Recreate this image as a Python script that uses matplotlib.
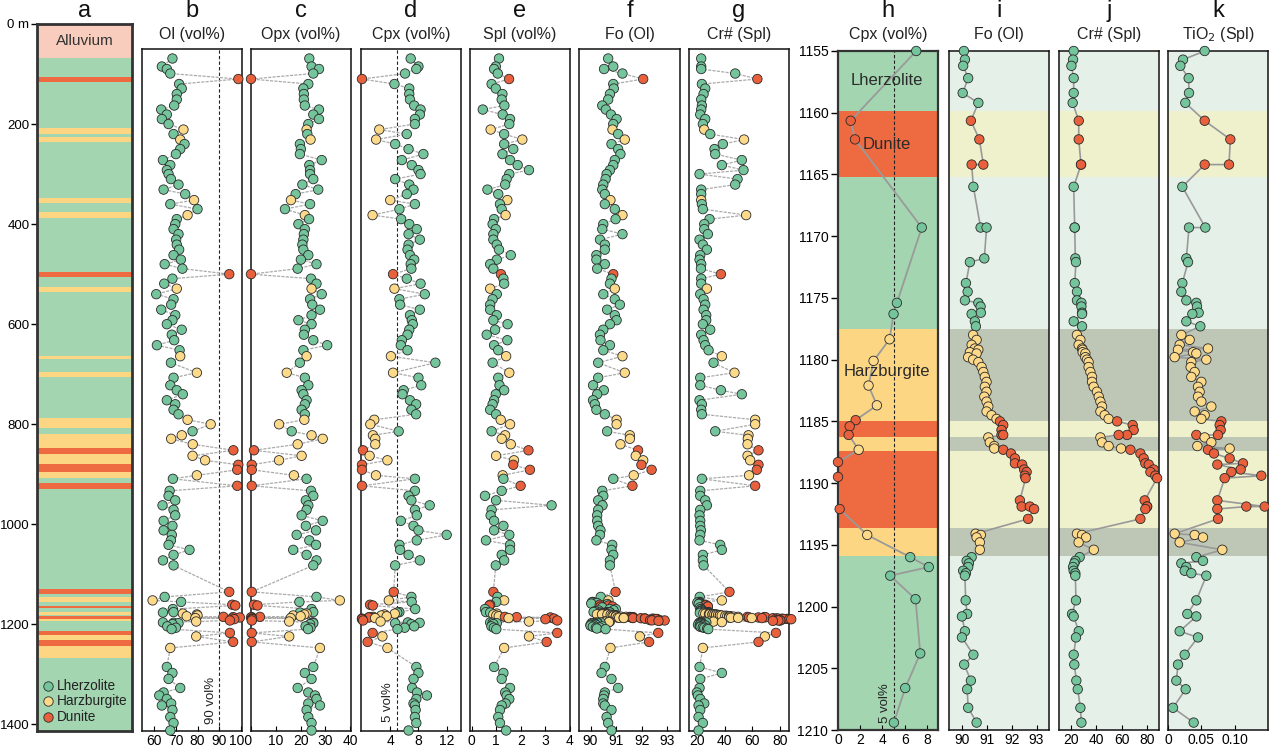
import numpy as np
import matplotlib
matplotlib.use('Agg')
import matplotlib.pyplot as plt

plt.rcParams['font.family'] = ['Liberation Sans', 'DejaVu Sans']

W, H = 1269, 746

# ---- lithology colours ----
col_mark = {'L': '#74C49C', 'H': '#FDD98A', 'D': '#E8603C'}
col_band = {'L': '#A3D5B1', 'H': '#FDD684', 'D': '#EE6A41'}
col_soft = {'L': '#E5F1E8', 'H': '#BEC7B6', 'D': '#EEF1CC'}
lith_names = ['Lherzolite', 'Harzburgite', 'Dunite']

# ---- column a: lithology log (m) ----
alluvium_top, alluvium_bot = 0, 68
band_top = [105, 207, 225, 347, 375, 495, 525, 663, 695, 787, 819, 847, 859, 879, 895, 917,
            1129, 1145, 1163, 1175, 1184, 1189, 1214, 1222, 1231, 1243]
band_bot = [115, 220, 235, 357, 387, 505, 536, 669, 705, 807, 847, 859, 879, 895, 907, 929,
            1140, 1155, 1167, 1182, 1189, 1193, 1222, 1231, 1243, 1267]
band_lith = ['D', 'H', 'H', 'H', 'H', 'D', 'H', 'H', 'H', 'H', 'H', 'D', 'H', 'D', 'H', 'D',
             'D', 'H', 'D', 'H', 'D', 'H', 'D', 'H', 'D', 'H']

# ---- main drill-core profile (panels b-g) ----
depth = [69, 85, 90, 99, 110, 120, 129, 140, 151, 163, 171, 181, 190, 200, 211, 220, 231, 240,
         250, 260, 272, 282, 292, 300, 310, 321, 331, 340, 352, 360, 370, 382, 390, 400, 410,
         420, 431, 441, 451, 462, 471, 480, 489, 500, 509, 519, 529, 540, 550, 561, 571, 582,
         592, 600, 611, 621, 632, 642, 652, 664, 677, 697, 707, 722, 732, 740, 752, 760, 771,
         780, 791, 800, 814, 822, 829, 840, 852, 863, 872, 881, 891, 902, 909, 923, 933, 943,
         952, 962, 971, 982, 993, 1003, 1012, 1021, 1032, 1041, 1051, 1061, 1072, 1082,
         1135, 1145, 1152, 1217, 1224, 1235, 1247,
         1285, 1297, 1309, 1327, 1336, 1342, 1349, 1358, 1362, 1371, 1385, 1397, 1412]
lith = list('LLLL' 'D' 'LLLLLLLLL' 'H' 'L' 'H' 'LLLLLLLLLLL' 'H' 'LL' 'H' 'LLLLLLLLLLL' 'D'
            'LL' 'H' 'LLLLLLLLLLLL' 'H' 'L' 'H' 'L' 'LLLLLLL' 'HH' 'L' 'HHH' 'D' 'HH' 'DD'
            'H' 'L' 'D' 'LLLLLLLLLLLLLLLL'
            'DLHDHDH'
            'LLLLLLLLLLLLL')
ol = [68.4, 63.5, 65.8, 67.4, 98.9, 71.5, 72.7, 70.4, 70.4, 69.2, 63.2, 65.8, 63.5, 66.6, 73.5,
      68.9, 72.0, 74.0, 72.0, 70.0, 64.0, 67.4, 65.8, 66.6, 67.7, 71.2, 64.3, 74.3, 78.4, 67.4,
      80.0, 75.4, 70.4, 69.7, 68.9, 71.2, 70.1, 70.4, 71.5, 68.9, 72.3, 64.8, 73.0, 94.7, 68.4,
      64.6, 70.4, 60.9, 68.9, 67.8, 63.2, 69.7, 68.4, 65.8, 72.7, 68.1, 69.2, 61.2, 71.7, 72.0,
      67.7, 79.7, 68.9, 67.4, 70.4, 73.2, 65.8, 69.7, 68.9, 71.2, 75.4, 86.1, 77.7, 72.7, 67.8,
      77.8, 96.6, 77.7, 83.5, 98.9, 98.4, 79.7, 68.6, 98.4, 67.1, 66.6, 69.7, 63.8, 68.9, 69.7,
      64.3, 68.4, 64.3, 68.1, 67.7, 66.6, 76.3, 68.9, 64.0, 68.9,
      94.7, 64.8, 59.2, 95.0, 79.4, 96.5, 67.4,
      65.8, 68.4, 66.6, 72.0, 64.3, 62.3, 65.8, 67.8, 63.5, 68.4, 67.4, 68.9, 67.4]
opx = [23.5, 24.4, 27.4, 25.1, 0.0, 23.1, 21.1, 21.3, 21.3, 21.7, 27.4, 25.1, 27.4, 23.1, 22.4,
       22.7, 24.0, 19.7, 20.1, 19.7, 28.5, 23.5, 23.8, 23.8, 25.1, 20.7, 27.1, 18.0, 16.1, 23.8,
       13.7, 21.7, 23.4, 19.1, 21.7, 21.3, 21.1, 20.7, 21.1, 23.1, 20.1, 26.4, 18.8, 0.0, 24.2,
       26.4, 24.4, 28.5, 23.8, 24.7, 27.8, 24.4, 19.1, 24.4, 21.7, 21.3, 25.1, 30.7, 21.1, 22.4,
       19.7, 14.4, 21.7, 23.1, 20.4, 21.1, 22.4, 21.7, 20.4, 21.7, 21.5, 11.3, 16.4, 24.4, 28.9,
       18.8, 1.2, 20.4, 11.3, 0.3, 0.3, 17.3, 22.4, 0.3, 24.2, 25.1, 22.1, 23.1, 22.4, 20.4,
       28.9, 22.1, 26.2, 18.4, 23.5, 26.2, 17.0, 22.4, 26.4, 25.1,
       0.3, 26.4, 35.8, 0.3, 15.4, 0.3, 27.8,
       25.1, 21.7, 24.4, 18.8, 23.1, 25.8, 26.4, 23.1, 27.8, 22.4, 23.1, 24.4, 24.4]
cpx = [6.9, 8.0, 7.7, 6.1, 0.0, 4.6, 6.7, 6.7, 6.8, 7.4, 8.3, 8.2, 7.5, 7.5, 2.45, 6.35, 2.0,
       4.7, 6.6, 8.7, 5.65, 7.06, 8.0, 8.3, 4.7, 6.7, 7.3, 6.35, 4.0, 7.5, 5.3, 1.5, 5.55, 6.7,
       7.76, 6.6, 8.2, 6.6, 6.45, 6.8, 7.4, 6.9, 7.0, 4.4, 6.35, 8.3, 4.6, 8.9, 5.3, 5.4, 8.2,
       6.8, 7.06, 7.2, 6.7, 6.45, 5.65, 5.5, 6.45, 4.1, 10.4, 4.4, 8.0, 8.4, 5.9, 5.74, 6.8,
       7.67, 7.0, 7.67, 1.74, 1.18, 5.2, 1.55, 1.88, 1.88, 0.14, 1.08, 3.6, 0.0, 0.0, 1.98, 7.5,
       0.0, 7.5, 6.6, 7.0, 9.6, 7.5, 7.76, 5.5, 7.3, 8.0, 12.0, 7.76, 5.3, 5.4, 6.6, 8.2, 4.7,
       4.5, 7.0, 3.8, 1.5, 2.9, 0.8, 3.6,
       7.7, 8.0, 7.3, 7.1, 7.8, 9.2, 7.7, 7.3, 7.5, 7.6, 7.5, 7.7, 6.6]
spl = [1.11, 0.98, 0.91, 1.06, 1.52, 0.81, 0.98, 1.25, 1.22, 1.33, 0.45, 1.26, 1.56, 1.53, 0.77,
       1.32, 2.06, 1.32, 1.69, 1.25, 1.56, 1.87, 2.33, 1.53, 1.42, 1.36, 0.64, 1.08, 1.45, 1.15,
       1.22, 1.38, 0.91, 0.85, 0.98, 0.88, 0.88, 1.02, 1.11, 1.59, 1.02, 0.75, 0.88, 1.19, 1.29,
       1.32, 0.75, 1.02, 0.85, 0.75, 0.75, 1.02, 0.88, 1.46, 0.95, 0.61, 1.45, 0.91, 1.08, 1.40,
       0.85, 1.53, 1.08, 1.13, 1.32, 0.98, 0.91, 0.85, 0.75, 0.99, 1.18, 1.56, 0.81, 1.36, 1.22,
       1.59, 2.31, 0.99, 1.72, 1.69, 2.37, 1.26, 1.29, 1.99, 1.22, 0.54, 0.99, 3.25, 0.81, 0.77,
       0.91, 1.29, 0.91, 1.53, 0.58, 1.56, 1.56, 1.22, 1.32, 0.98,
       0.88, 1.05, 1.32, 3.48, 2.33, 3.05, 1.32,
       0.91, 1.29, 1.22, 1.56, 1.36, 1.42, 1.53, 1.38, 1.22, 1.15, 1.08, 1.15, 1.40]
fo = [90.69, 90.89, 90.53, 91.25, 92.06, 90.89, 90.91, 90.76, 90.69, 90.46, 90.60, 90.80, 91.02,
      90.89, 90.86, 91.08, 91.34, 90.82, 91.08, 91.17, 90.95, 90.89, 90.76, 90.63, 90.59, 90.50,
      90.46, 90.56, 90.78, 90.56, 90.95, 91.25, 90.98, 90.50, 90.46, 91.25, 90.37, 90.56, 90.56,
      90.23, 90.23, 90.56, 90.26, 90.89, 90.82, 90.76, 90.95, 90.50, 90.95, 91.15, 90.65, 90.95,
      91.02, 90.76, 90.50, 90.37, 90.39, 90.76, 90.50, 91.25, 90.30, 91.34, 90.30, 90.10, 90.52,
      90.26, 90.10, 90.17, 90.23, 90.56, 91.02, 91.02, 90.65, 91.54, 91.54, 91.17, 91.86, 91.77,
      92.06, 91.99, 92.39, 91.69, 90.89, 91.64, 90.46, 90.50, 90.30, 90.47, 90.30, 90.26, 90.26,
      90.30, 90.39, 90.37, 90.23, 90.85, 90.82, 90.89, 90.76, 90.76,
      90.98, 90.40, 90.70, 92.65, 91.93, 92.29, 90.78,
      90.56, 90.43, 90.82, 91.08, 90.56, 90.53, 90.50, 90.50, 90.56, 90.82, 90.63, 90.69, 90.82]
crn = [23.1, 23.1, 23.1, 47.6, 63.6, 23.6, 26.0, 24.8, 23.1, 23.6, 23.1, 22.4, 26.0, 24.3, 25.3,
       29.6, 54.0, 38.7, 32.7, 33.2, 52.4, 38.0, 53.6, 21.9, 49.3, 47.6, 23.1, 23.1, 23.1, 23.6,
       24.3, 55.5, 29.1, 25.3, 25.3, 27.9, 21.9, 24.3, 27.2, 22.4, 21.9, 23.1, 22.9, 37.3, 23.1,
       23.1, 27.2, 22.4, 24.8, 26.0, 24.8, 26.7, 26.7, 24.3, 29.6, 23.1, 24.8, 26.0, 28.4, 38.0,
       32.0, 47.1, 22.4, 22.4, 37.3, 52.4, 21.9, 23.6, 23.1, 23.6, 62.0, 62.0, 33.2, 57.2, 56.7,
       56.5, 64.4, 56.5, 58.4, 64.4, 63.2, 57.6, 23.6, 62.0, 22.4, 22.4, 26.0, 27.2, 22.4, 21.9,
       22.4, 22.4, 22.9, 22.4, 21.9, 36.8, 38.0, 24.3, 24.3, 24.8,
       43.5, 22.0, 38.0, 77.0, 69.0, 64.4, 24.3,
       21.9, 38.0, 22.4, 21.9, 20.0, 20.7, 22.4, 25.3, 21.2, 22.4, 21.2, 24.3, 21.2]

# ---- detailed interval 1155-1210 m: modal data (panel h, also in b-e) ----
h_depth = [1155.0, 1160.65, 1162.16, 1169.3, 1175.4, 1176.3, 1178.35, 1180.1, 1182.1, 1183.7,
           1184.9, 1185.4, 1186.1, 1187.3, 1188.3, 1189.5, 1192.1, 1194.2, 1196.0, 1196.8,
           1197.5, 1199.4, 1203.8, 1206.6, 1209.4]
h_lith = list('LDDLLLHHHHDDDHDDDHLLLLLLL')
h_ol = [72.4, 96.1, 97.5, 68.6, 68.9, 64.0, 73.2, 79.7, 80.0, 75.0, 92.0, 96.5, 99.6, 79.0, 96.0,
        97.0, 95.0, 79.4, 64.0, 68.9, 71.2, 68.4, 66.0, 70.0, 68.0]
h_opx = [19.5, 1.2, 2.6, 24.4, 25.1, 19.7, 22.4, 21.5, 17.0, 20.0, 3.6, 0.3, 0.0, 16.0, 0.3, 0.5,
         0.3, 15.4, 25.0, 24.4, 25.1, 23.8, 22.0, 24.0, 23.0]
h_cpx = [7.04, 1.14, 1.53, 7.54, 5.30, 5.00, 4.64, 3.20, 2.75, 3.50, 1.59, 1.05, 0.96, 1.86, 0.0,
         0.0, 0.15, 2.63, 6.50, 8.17, 4.70, 6.98, 7.40, 6.05, 5.03]
h_spl = [1.00, 0.75, 0.72, 0.54, 0.58, 0.75, 1.02, 0.88, 1.00, 1.10, 1.35, 1.83, 3.20, 1.50, 3.35,
         3.00, 3.48, 2.33, 0.75, 0.85, 1.02, 0.88, 0.80, 0.90, 1.00]

# ---- detailed interval: mineral chemistry (panels i-k, also in f-g) ----
ch_depth = [1155.0, 1155.7, 1156.2, 1157.2, 1158.4, 1159.2, 1160.65, 1162.16, 1164.2, 1164.2,
            1166.0, 1169.3, 1169.3, 1171.8, 1172.1, 1173.8, 1174.5, 1175.2, 1175.4, 1175.7,
            1176.2, 1176.3, 1176.9, 1177.3,
            1178.0, 1178.4, 1178.8, 1179.1, 1179.2, 1179.4, 1179.5, 1179.8, 1180.0, 1180.2,
            1180.6, 1181.0, 1181.4, 1181.8, 1182.2, 1182.6, 1183.0, 1183.4, 1183.8, 1184.2,
            1184.5, 1184.8,
            1185.0, 1185.3, 1185.7, 1186.1, 1186.1, 1186.3, 1186.7, 1187.0, 1187.2,
            1187.3, 1187.6, 1188.0, 1188.4, 1188.5, 1188.9, 1189.1, 1189.4, 1189.6, 1191.4,
            1191.9, 1191.9, 1192.1, 1192.9,
            1194.1, 1194.2, 1194.4, 1194.8, 1195.4,
            1196.0, 1196.3, 1196.5, 1196.8, 1197.1, 1197.3, 1197.5, 1199.5, 1200.6, 1200.8,
            1202.0, 1202.5, 1203.9, 1204.7, 1206.0, 1206.7, 1208.2, 1209.4]
ch_lith = list('LLLLLLDDDDLLLLLLLLLLLLLL' 'HHHHHHHHHHHHHHHHHHHHHH' 'DDDDDHHHH'
               'DDDDDDDDDDDDDD' 'HHHHH' 'LLLLLLLLLLLLLLLLLL')
ch_fo = [90.08, 90.12, 90.05, 90.25, 90.03, 90.66, 90.36, 90.70, 90.86, 90.39,
         90.46, 90.75, 90.99, 90.90, 90.32, 90.16, 90.23, 90.12, 90.66, 90.75,
         90.76, 90.39, 90.52, 90.56,
         90.45, 90.59, 90.39, 90.52, 90.66, 90.32, 90.59, 90.25, 90.45, 90.66,
         90.79, 90.86, 90.92, 90.99, 90.92, 90.99, 90.90, 90.99, 91.06, 90.99,
         91.19, 91.39,
         91.53, 91.66, 91.59, 91.59, 91.66, 91.06, 91.12, 91.30, 91.30,
         91.66, 91.97, 92.13, 92.13, 92.42, 92.50, 92.60, 92.53, 92.56, 92.33,
         92.40, 92.73, 92.90, 92.66,
         90.55, 90.76, 90.59, 90.72, 90.72,
         90.39, 90.19, 90.28, 90.25, 90.05, 90.16, 90.12, 90.15, 90.21, 90.00,
         90.12, 90.00, 90.46, 90.09, 90.36, 90.21, 90.25, 90.59]
ch_crn = [22.1, 21.6, 20.3, 22.1, 22.1, 21.3, 26.1, 26.1, 27.9, 27.9,
          22.1, 22.9, 22.9, 23.4, 23.9, 22.9, 24.7, 24.7, 28.2, 28.2,
          28.7, 28.7, 22.1, 28.7,
          24.7, 27.4, 26.0, 28.7, 29.2, 29.2, 31.3, 31.3, 32.6, 33.9,
          33.9, 35.3, 36.6, 36.6, 37.9, 40.5, 41.9, 43.2, 44.5, 43.2,
          46.6, 49.7,
          56.4, 68.7, 69.5, 64.3, 57.6, 43.2, 44.5, 49.7, 59.5,
          66.9, 74.8, 77.4, 78.7, 81.4, 85.3, 82.7, 86.6, 88.0, 78.2,
          80.1, 80.1, 78.7, 74.8,
          24.7, 28.7, 31.9, 26.0, 38.0,
          26.8, 23.4, 22.6, 21.6, 22.1, 23.4, 23.4, 23.9, 20.8, 22.1,
          26.1, 23.9, 22.1, 22.6, 24.2, 25.3, 27.4, 28.2]
ch_tio2 = [0.055, 0.0225, 0.0185, 0.031, 0.0315, 0.026, 0.055, 0.0935, 0.0915, 0.055,
           0.0215, 0.056, 0.0315, 0.0275, 0.030, 0.0215, 0.020, 0.0275, 0.0425, 0.0435,
           0.046, 0.0365, 0.0275, 0.0485,
           0.020, 0.0325, 0.0175, 0.060, 0.015, 0.0375, 0.0425, 0.010, 0.0575, 0.035,
           0.034, 0.040, 0.035, 0.050, 0.045, 0.0475, 0.045, 0.050, 0.065, 0.040,
           0.055, 0.050,
           0.080, 0.0775, 0.079, 0.075, 0.0425, 0.055, 0.065, 0.044, 0.0925,
           0.060, 0.069, 0.0925, 0.1125, 0.074, 0.109, 0.095, 0.140, 0.085, 0.074,
           0.145, 0.1175, 0.074, 0.075,
           0.010, 0.040, 0.0525, 0.0175, 0.0815,
           0.0425, 0.0525, 0.020, 0.0275, 0.025, 0.035, 0.0575, 0.0425, 0.029, 0.0425,
           0.0175, 0.045, 0.025, 0.015, 0.0125, 0.0265, 0.0075, 0.0385]

# h-k lithology intervals
iv_top = [1155.0, 1159.9, 1165.2, 1177.5, 1185.0, 1186.3, 1187.4, 1193.6, 1195.9]
iv_bot = [1159.9, 1165.2, 1177.5, 1185.0, 1186.3, 1187.4, 1193.6, 1195.9, 1210.0]
iv_lith = ['L', 'D', 'L', 'H', 'D', 'H', 'D', 'H', 'L']


def add_ax(fig, x0, x1, y0, y1):
    return fig.add_axes([x0 / W, 1 - y1 / H, (x1 - x0) / W, (y1 - y0) / H])


def merge(d1, v1, l1, d2, v2, l2):
    d = np.array(list(d1) + list(d2), dtype=float)
    v = np.array(list(v1) + list(v2), dtype=float)
    l = np.array(list(l1) + list(l2))
    o = np.argsort(d, kind='stable')
    return d[o], v[o], l[o]


def draw_profile(ax, d, v, l, line_kw):
    ax.plot(v, d, zorder=2, **line_kw)
    ax.scatter(v, d, s=46, c=[col_mark[k] for k in l], edgecolors='#2a2a2a',
               linewidths=0.6, zorder=3, clip_on=False)


def style_bottom(ax, xlim, ticks, labels):
    ax.set_xlim(*xlim)
    ax.set_xticks(ticks)
    ax.set_xticklabels(labels)
    ax.tick_params(axis='x', direction='in', length=3.5, width=0.8, labelsize=10, pad=2)
    ax.set_yticks([])
    for sp in ax.spines.values():
        sp.set_linewidth(1.1)
        sp.set_color('#111111')


fig = plt.figure(figsize=(W / 100, H / 100), dpi=100)

# ---------------- panel a ----------------
ax_a = add_ax(fig, 37, 132, 24, 731)
ax_a.set_xlim(0, 1)
ax_a.set_ylim(1413, 0)
ax_a.axhspan(alluvium_top, alluvium_bot, color='#F8CDBE', lw=0)
ax_a.axhspan(alluvium_bot, 1413, color=col_band['L'], lw=0)
for t, b, k in zip(band_top, band_bot, band_lith):
    ax_a.axhspan(t, b, color=col_band[k], lw=0)
ax_a.text(0.5, (alluvium_top + alluvium_bot) / 2, 'Alluvium', ha='center', va='center',
          fontsize=11, color='#333333')
ax_a.set_xticks([])
ax_a.set_yticks([0, 200, 400, 600, 800, 1000, 1200, 1400])
ax_a.set_yticklabels(['0 m', '200', '400', '600', '800', '1000', '1200', '1400'])
ax_a.tick_params(axis='y', direction='out', length=4, width=1, labelsize=9.5, pad=1.5)
for sp in ax_a.spines.values():
    sp.set_linewidth(2)
    sp.set_color('#333333')
for yy, name, k in zip([0.064, 0.042, 0.020], lith_names, ['L', 'H', 'D']):
    ax_a.scatter([0.12], [yy], s=46, c=col_mark[k], edgecolors='#2a2a2a', linewidths=0.6,
                 transform=ax_a.transAxes, zorder=4)
    ax_a.text(0.21, yy, name, transform=ax_a.transAxes, ha='left', va='center',
              fontsize=9.8, color='#222222')

# ---------------- panels b-g ----------------
core_line = dict(color='#ABABAB', lw=0.9, ls=(0, (2.5, 1)))
boxes = [(142, 242), (251, 351), (361, 461), (470, 570), (579, 680), (689, 789)]
series = [
    merge(depth, ol, lith, h_depth, h_ol, h_lith),
    merge(depth, opx, lith, h_depth, h_opx, h_lith),
    merge(depth, cpx, lith, h_depth, h_cpx, h_lith),
    merge(depth, spl, lith, h_depth, h_spl, h_lith),
    merge(depth, fo, lith, ch_depth, ch_fo, ch_lith),
    merge(depth, crn, lith, ch_depth, ch_crn, ch_lith),
]
xlims = [(54.3, 100.6), (0, 40.3), (-0.14, 14.03), (-0.07, 4.0), (89.55, 93.5), (14.3, 86.4)]
xticks = [[60, 70, 80, 90, 100], [0, 10, 20, 30, 40], [4, 8, 12], [0, 1, 2, 3, 4],
          [90, 91, 92, 93], [20, 40, 60, 80]]
xlabels = [['60', '70', '80', '90', '100'], ['', '10', '20', '30', '40'], ['4', '8', '12'],
           ['0', '1', '2', '3', '4'], ['90', '91', '92', '93'], ['20', '40', '60', '80']]
letters = ['b', 'c', 'd', 'e', 'f', 'g']
subtitles = ['Ol (vol%)', 'Opx (vol%)', 'Cpx (vol%)', 'Spl (vol%)', 'Fo (Ol)', 'Cr# (Spl)']

core_axes = []
for (x0, x1), (d, v, l), xl, tk, lb in zip(boxes, series, xlims, xticks, xlabels):
    ax = add_ax(fig, x0, x1, 49, 731)
    ax.set_ylim(1413, 50)
    draw_profile(ax, d, v, l, core_line)
    style_bottom(ax, xl, tk, lb)
    core_axes.append(ax)

core_axes[0].axvline(90, color='#222222', lw=0.8, ls=(0, (3, 2)), zorder=1)
core_axes[0].text(86.3, 1351, '90 vol%', rotation=90, ha='center', va='center',
                  fontsize=9.5, color='#222222')
core_axes[2].axvline(5, color='#222222', lw=0.8, ls=(0, (3, 2)), zorder=1)
core_axes[2].text(3.7, 1355, '5 vol%', rotation=90, ha='center', va='center',
                  fontsize=9.5, color='#222222')

# ---------------- panel h ----------------
ax_h = add_ax(fig, 838, 938, 51, 730)
ax_h.set_ylim(1210, 1155)
for t, b, k in zip(iv_top, iv_bot, iv_lith):
    ax_h.axhspan(t, b, color=col_band[k], lw=0)
ax_h.axvline(5, color='#222222', lw=0.8, ls=(0, (3, 2)), zorder=1)
draw_profile(ax_h, h_depth, h_cpx, h_lith, dict(color='#9A9A9A', lw=1.3))
style_bottom(ax_h, (0, 9), [0, 2, 4, 6, 8], ['0', '2', '4', '6', '8'])
ax_h.set_yticks(np.arange(1155, 1211, 5))
ax_h.tick_params(axis='y', direction='out', length=5, width=1, labelsize=10, pad=2)
for sp in ax_h.spines.values():
    sp.set_linewidth(1.6)
    sp.set_color('#333333')
for txt, yy in zip(['Lherzolite', 'Dunite', 'Harzburgite'], [1157.4, 1162.6, 1181.0]):
    ax_h.text(4.43, yy, txt, ha='center', va='center', fontsize=12, color='#2b2b2b', zorder=4)
ax_h.text(4.27, 1207.8, '5 vol%', rotation=90, ha='center', va='center', fontsize=9.5,
          color='#222222')

# ---------------- panels i-k ----------------
chem = [ch_fo, ch_crn, ch_tio2]
chem_box = [(949, 1049), (1059, 1159), (1168, 1268)]
chem_xlim = [(89.48, 93.5), (10.5, 89.5), (0, 0.15)]
chem_ticks = [[90, 91, 92, 93], [20, 40, 60, 80], [0, 0.05, 0.10]]
chem_labels = [['90', '91', '92', '93'], ['20', '40', '60', '80'], ['0', '0.05', '0.10']]
for (x0, x1), vals, xl, tk, lb in zip(chem_box, chem, chem_xlim, chem_ticks, chem_labels):
    ax = add_ax(fig, x0, x1, 51, 730)
    ax.set_ylim(1210, 1155)
    for t, b, k in zip(iv_top, iv_bot, iv_lith):
        ax.axhspan(t, b, color=col_soft[k], lw=0)
    draw_profile(ax, ch_depth, vals, ch_lith, dict(color='#999999', lw=1.2))
    style_bottom(ax, xl, tk, lb)

# ---------------- headers ----------------
head_x = [84.5] + [(a + b) / 2 for a, b in boxes] + [888] + [(a + b) / 2 for a, b in chem_box]
head_l = ['a'] + letters + ['h', 'i', 'j', 'k']
head_s = [''] + subtitles + ['Cpx (vol%)', 'Fo (Ol)', 'Cr# (Spl)', 'TiO$_2$ (Spl)']
for xc, lt, st in zip(head_x, head_l, head_s):
    fig.text(xc / W, 1 - 11 / H, lt, ha='center', va='center', fontsize=17, color='#111111')
    if st:
        fig.text(xc / W, 1 - 35 / H, st, ha='center', va='center', fontsize=11.5,
                 color='#222222')

fig.savefig('out.png', dpi=100)
